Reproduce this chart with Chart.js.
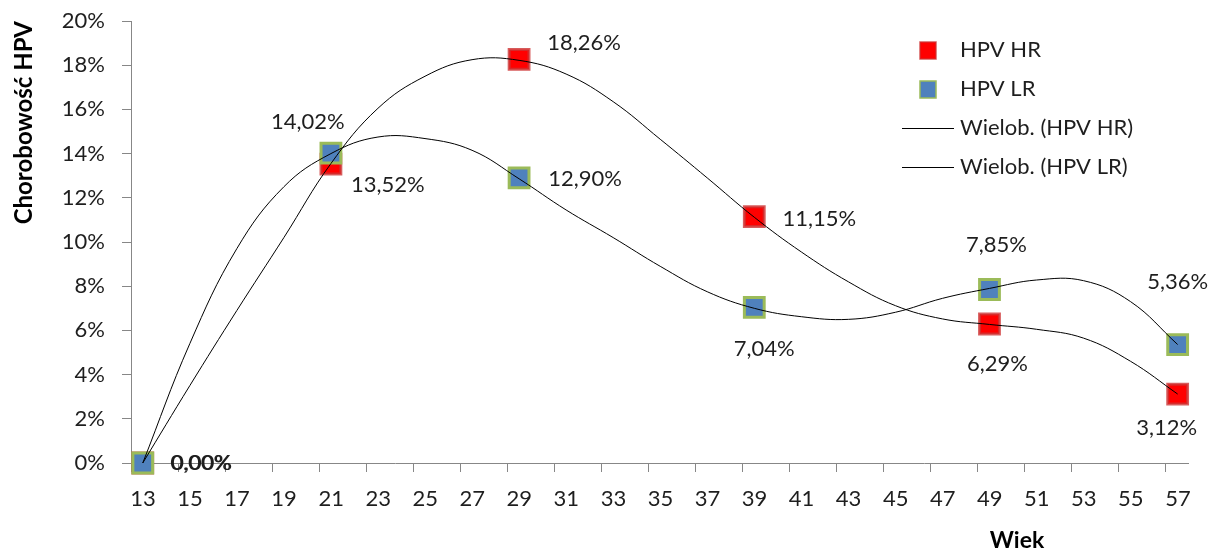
<!DOCTYPE html>
<html lang="pl">
<head>
<meta charset="utf-8">
<title>Chorobowość HPV</title>
<script src="https://cdn.jsdelivr.net/npm/chart.js@4.4.1/dist/chart.umd.min.js"></script>
<style>
  html, body { margin: 0; padding: 0; background: #ffffff; }
  #kontener { width: 1216px; height: 549px; position: relative; }
</style>
</head>
<body>
<div id="kontener"><canvas id="wykres"></canvas></div>
<script>
// Punkty pomiarowe (wiek, chorobowość w %)
const wiek = [13, 21, 29, 39, 49, 57];
const hpvHR = [0, 13.52, 18.26, 11.15, 6.29, 3.12];
const hpvLR = [0, 14.02, 12.90, 7.04, 7.85, 5.36];

const wiekTrend = [13, 15, 17, 19, 21, 23, 25, 27, 29, 31, 33, 35, 37, 39, 41, 43, 45, 47, 49, 51, 53, 55, 57];
const trendHR = [0, 3.5, 6.9, 10.2, 13.55, 16.05, 17.5, 18.25, 18.22, 17.6, 16.35, 14.65, 12.9, 11.12, 9.55, 8.2, 7.12, 6.52, 6.27, 6.05, 5.65, 4.6, 3.12];
const trendLR = [0, 5.4, 9.7, 12.5, 14.0, 14.75, 14.68, 14.15, 12.86, 11.45, 10.2, 8.9, 7.75, 7.0, 6.62, 6.5, 6.82, 7.45, 7.9, 8.28, 8.25, 7.3, 5.36];

// Etykiety osi
const etykietyX = ['13', '15', '17', '19', '21', '23', '25', '27', '29', '31', '33', '35', '37', '39', '41', '43', '45', '47', '49', '51', '53', '55', '57'];
const podzialkaY = [0, 2, 4, 6, 8, 10, 12, 14, 16, 18, 20];

const FONT = 'Lato, "Open Sans", sans-serif';
const KOLOR_TEKSTU = '#1e1e1e';
const KOLOR_OSI = '#878787';

const procent = v => v.toFixed(2).replace('.', ',') + '%';

// Etykiety wartości przy punktach
const etykietyPunktow = {
  id: 'etykietyPunktow',
  afterDatasetsDraw(chart) {
    const ctx = chart.ctx;
    ctx.save();
    ctx.font = '22px ' + FONT;
    ctx.fillStyle = KOLOR_TEKSTU;
    ctx.textAlign = 'center';
    ctx.textBaseline = 'middle';
    chart.data.datasets.forEach((ds, i) => {
      if (!ds.przesuniecia) return;
      const meta = chart.getDatasetMeta(i);
      meta.data.forEach((pkt, j) => {
        const [dx, dy] = ds.przesuniecia[j];
        ctx.fillText(procent(ds.data[j].y), pkt.x + dx, pkt.y + dy);
      });
    });
    ctx.restore();
  }
};

// Legenda w prawym górnym rogu oraz tytuł osi X
const legendaWlasna = {
  id: 'legendaWlasna',
  afterDraw(chart) {
    const {ctx, chartArea} = chart;
    const xs = chartArea.right - 260;
    ctx.save();
    ctx.font = '22px ' + FONT;
    ctx.textBaseline = 'middle';
    ctx.textAlign = 'left';
    chart.data.datasets.forEach((ds, i) => {
      const y = chartArea.top + 29 + i * 39;
      if (ds.showLine === false) {
        ctx.fillStyle = ds.backgroundColor;
        ctx.fillRect(xs - 8, y - 8, 16, 17);
        ctx.strokeStyle = ds.borderColor;
        ctx.lineWidth = 1.5;
        ctx.strokeRect(xs - 8, y - 8, 16, 17);
      } else {
        ctx.strokeStyle = ds.borderColor;
        ctx.lineWidth = 1;
        ctx.beginPath();
        ctx.moveTo(xs - 26, y + 0.5);
        ctx.lineTo(xs + 26, y + 0.5);
        ctx.stroke();
      }
      ctx.fillStyle = KOLOR_TEKSTU;
      ctx.fillText(ds.label, xs + 32, y);
    });
    ctx.font = 'bold 23px ' + FONT;
    ctx.fillStyle = '#000000';
    ctx.textAlign = 'center';
    ctx.textBaseline = 'alphabetic';
    ctx.fillText('Wiek', chartArea.right - 171, chart.height - 1);
    ctx.restore();
  }
};

const ctx = document.getElementById('wykres').getContext('2d');
const wykres = new Chart(ctx, {
  type: 'line',
  data: {
    datasets: [
      {
        label: 'HPV HR',
        data: wiek.map((w, i) => ({ x: w, y: hpvHR[i] })),
        showLine: false,
        pointStyle: 'rect',
        pointRadius: 14,
        pointHoverRadius: 14,
        backgroundColor: '#ff0000',
        borderColor: 'rgba(205, 50, 50, 0.8)',
        pointBorderWidth: 3,
        clip: false,
        order: 3,
        przesuniecia: [[59, 0], [57, 21], [65, -17], [65, 2], [8, 40], [-11, 34]]
      },
      {
        label: 'HPV LR',
        data: wiek.map((w, i) => ({ x: w, y: hpvLR[i] })),
        showLine: false,
        pointStyle: 'rect',
        pointRadius: 14,
        pointHoverRadius: 14,
        backgroundColor: '#4f81bd',
        borderColor: '#9bbb59',
        pointBorderWidth: 3,
        clip: false,
        order: 2,
        przesuniecia: [[58, 0], [-23, -31], [66, 1], [10, 41], [7, -45], [0, -63]]
      },
      {
        label: 'Wielob. (HPV HR)',
        data: wiekTrend.map((w, i) => ({ x: w, y: trendHR[i] })),
        borderColor: '#000000',
        borderWidth: 1,
        pointRadius: 0,
        tension: 0.4,
        fill: false,
        clip: false,
        order: 1
      },
      {
        label: 'Wielob. (HPV LR)',
        data: wiekTrend.map((w, i) => ({ x: w, y: trendLR[i] })),
        borderColor: '#000000',
        borderWidth: 1,
        pointRadius: 0,
        tension: 0.4,
        fill: false,
        clip: false,
        order: 0
      }
    ]
  },
  options: {
    responsive: true,
    maintainAspectRatio: false,
    animation: false,
    events: [],
    layout: { padding: { top: 21, right: 28, bottom: 0, left: 0 } },
    plugins: {
      legend: { display: false },
      tooltip: { enabled: false }
    },
    scales: {
      x: {
        type: 'linear',
        min: 12.5,
        max: 57.44,
        afterFit: s => { s.height = 86; },
        afterBuildTicks: s => {
          s.ticks = etykietyX.map(e => ({ value: Number(e) - 0.5 }));
        },
        ticks: {
          autoSkip: false,
          maxRotation: 0,
          labelOffset: 12,
          padding: 14,
          color: KOLOR_TEKSTU,
          font: { family: FONT, size: 22 },
          callback: (v, i) => etykietyX[i]
        },
        grid: { drawOnChartArea: false, tickLength: 9, color: KOLOR_OSI },
        border: { color: KOLOR_OSI }
      },
      y: {
        min: 0,
        max: 20,
        afterFit: s => {
          s.width = 131;
          s.paddingTop = 13;
          s.paddingBottom = 13;
        },
        afterBuildTicks: s => {
          s.ticks = podzialkaY.map(v => ({ value: v }));
        },
        ticks: {
          padding: 17,
          color: KOLOR_TEKSTU,
          font: { family: FONT, size: 22 },
          callback: v => v + '%'
        },
        grid: { drawOnChartArea: false, tickLength: 9, color: KOLOR_OSI },
        border: { color: KOLOR_OSI },
        title: {
          display: true,
          text: 'Chorobowość HPV',
          align: 'end',
          color: '#000000',
          font: { family: FONT, size: 24, weight: 'bold' },
          padding: { top: 10, bottom: 0 }
        }
      }
    }
  },
  plugins: [etykietyPunktow, legendaWlasna]
});
</script>
</body>
</html>
